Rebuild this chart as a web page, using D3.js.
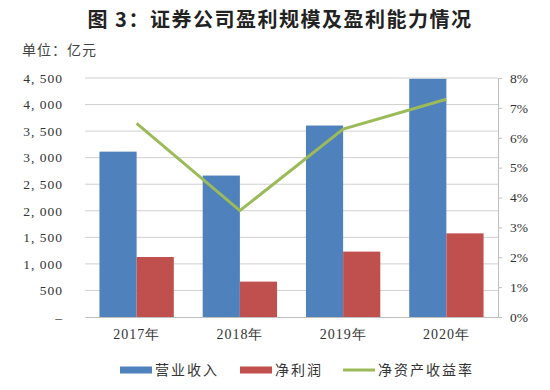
<!DOCTYPE html>
<html>
<head>
<meta charset="utf-8">
<script src="https://cdnjs.cloudflare.com/ajax/libs/d3/7.8.5/d3.min.js"></script>
<style>
  body { margin: 0; background: #fff; }
  svg { display: block; }
</style>
</head>
<body>
<svg id="chart"></svg>
<script>
// data
var years = ["2017年", "2018年", "2019年", "2020年"];
var revenue = [3113, 2663, 3605, 4485];   // 营业收入
var profit = [1130, 666, 1231, 1575];      // 净利润
var roe = [6.48, 3.56, 6.29, 7.29];        // 净资产收益率 %
var leftTicks = [0, 500, 1000, 1500, 2000, 2500, 3000, 3500, 4000, 4500];
var rightTicks = [0, 1, 2, 3, 4, 5, 6, 7, 8];
var legendNames = ["营业收入", "净利润", "净资产收益率"];

var width = 550, height = 390;
var margin = {top: 78, right: 52, bottom: 73, left: 85};
var iw = width - margin.left - margin.right,
    ih = height - margin.top - margin.bottom;

var blue = "#4f81bd", red = "#c0504d", green = "#9bbb59";
var numFont = "'Liberation Serif', 'DejaVu Serif', serif";
var cjkFont = "'Noto Sans CJK SC', sans-serif";

var svg = d3.select("#chart")
    .attr("width", width)
    .attr("height", height);

// title
svg.append("text")
    .attr("x", 280)
    .attr("y", 27)
    .attr("text-anchor", "middle")
    .style("font-family", cjkFont)
    .style("font-weight", "bold")
    .style("font-size", "20px")
    .style("letter-spacing", "1.5px")
    .attr("fill", "#222")
    .text("图 3：证券公司盈利规模及盈利能力情况");

svg.append("text")
    .attr("x", 22)
    .attr("y", 55)
    .style("font-family", cjkFont)
    .style("font-size", "14px")
    .style("letter-spacing", "1px")
    .attr("fill", "#444")
    .text("单位：亿元");

var g = svg.append("g")
    .attr("transform", "translate(" + margin.left + "," + margin.top + ")");

var x0 = d3.scaleBand()
    .domain(years)
    .range([0, iw])
    .paddingInner(0.28)
    .paddingOuter(0.14);

var x1 = d3.scaleBand()
    .domain([0, 1])
    .range([0, x0.bandwidth()]);

var y = d3.scaleLinear().domain([0, 4500]).range([ih, 0]);
var y2 = d3.scaleLinear().domain([0, 8]).range([ih, 0]);

// gridlines
g.selectAll(".grid")
    .data(leftTicks.slice(1))
    .enter()
    .append("line")
    .attr("x1", 0)
    .attr("x2", iw)
    .attr("y1", function(d){ return y(d); })
    .attr("y2", function(d){ return y(d); })
    .attr("stroke", "#d0d0d0")
    .attr("stroke-width", 1);

// left axis labels
var fmt = function(d){
    if (d === 0) return "–";
    return d3.format(",")(d).replace(",", ", ");
};
var leftAxis = d3.axisLeft(y).tickValues(leftTicks).tickFormat(fmt).tickSize(0).tickPadding(22);
var la = g.append("g").call(leftAxis);
la.select(".domain").remove();
la.selectAll("text")
    .style("font-family", numFont)
    .style("font-size", "13.5px")
    .style("letter-spacing", "1px")
    .attr("fill", "#333");

// bars
var groups = g.selectAll(".year")
    .data(years)
    .enter()
    .append("g")
    .attr("transform", function(d){ return "translate(" + x0(d) + ",0)"; });

groups.append("rect")
    .attr("x", x1(0))
    .attr("width", x1.bandwidth())
    .attr("y", function(d, i){ return y(revenue[i]); })
    .attr("height", function(d, i){ return ih - y(revenue[i]); })
    .attr("fill", blue);

groups.append("rect")
    .attr("x", x1(1))
    .attr("width", x1.bandwidth())
    .attr("y", function(d, i){ return y(profit[i]); })
    .attr("height", function(d, i){ return ih - y(profit[i]); })
    .attr("fill", red);

// bottom axis
var bottomAxis = d3.axisBottom(x0).tickSize(0).tickPadding(12);
var ba = g.append("g").attr("transform", "translate(0," + ih + ")").call(bottomAxis);
ba.select(".domain").attr("stroke", "#bfbfbf");
ba.selectAll("text")
    .style("font-family", numFont)
    .style("font-size", "14px")
    .style("letter-spacing", "1px")
    .attr("fill", "#333");

// right axis
var rightAxis = d3.axisRight(y2).tickValues(rightTicks)
    .tickFormat(function(d){ return d + "%"; })
    .tickSize(4).tickSizeOuter(0).tickPadding(8);
var ra = g.append("g").attr("transform", "translate(" + iw + ",0)").call(rightAxis);
ra.select(".domain").attr("stroke", "#bfbfbf");
ra.selectAll("line").attr("stroke", "#bfbfbf");
ra.selectAll("text")
    .style("font-family", numFont)
    .style("font-size", "13.5px")
    .attr("fill", "#333");

// ROE line
var line = d3.line()
    .x(function(d, i){ return x0(years[i]) + x0.bandwidth() / 2; })
    .y(function(d){ return y2(d); });

g.append("path")
    .datum(roe)
    .attr("d", line)
    .attr("fill", "none")
    .attr("stroke", green)
    .attr("stroke-width", 3);

// legend
var legendX = [120, 240, 343];
var legend = svg.selectAll(".legend")
    .data(legendNames)
    .enter()
    .append("g")
    .attr("transform", function(d, i){ return "translate(" + legendX[i] + ",370)"; });

legend.each(function(d, i){
    var el = d3.select(this);
    if (i < 2) {
        el.append("rect")
            .attr("x", 0).attr("y", -3.5)
            .attr("width", 32).attr("height", 7)
            .attr("fill", i === 0 ? blue : red);
    } else {
        el.append("line")
            .attr("x1", 0).attr("x2", 32)
            .attr("y1", 0).attr("y2", 0)
            .attr("stroke", green)
            .attr("stroke-width", 3);
    }
    el.append("text")
        .attr("x", 35)
        .attr("y", 5)
        .style("font-family", cjkFont)
        .style("font-size", "14px")
        .style("letter-spacing", "2px")
        .attr("fill", "#333")
        .text(d);
});
</script>
</body>
</html>
